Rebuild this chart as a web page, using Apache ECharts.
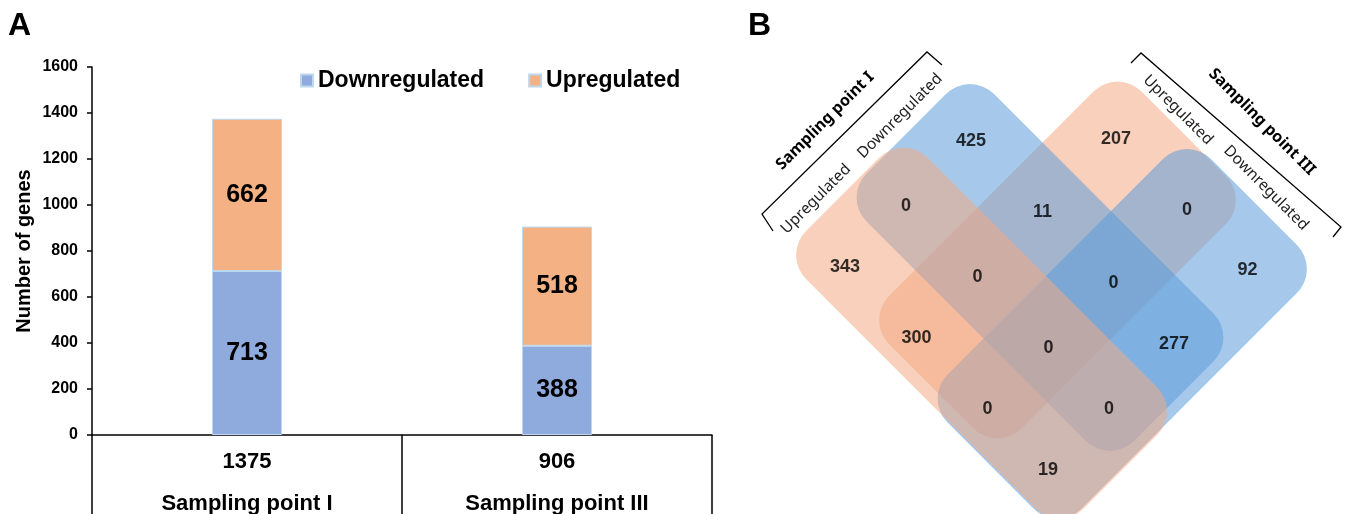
<!DOCTYPE html>
<html>
<head>
<meta charset="utf-8">
<script src="https://cdn.jsdelivr.net/npm/echarts@6/dist/echarts.min.js"></script>
<style>
  html, body { margin: 0; padding: 0; background: #fff; }
  #main { width: 1350px; height: 514px; }
</style>
</head>
<body>
<div id="main"></div>
<script>
// ---- panel A : DEGs per sampling point ----
var samples = ['Sampling point I', 'Sampling point III'];
var downData = [713, 388];
var upData = [662, 518];
var seriesNames = ['Downregulated', 'Upregulated'];
var yMax = 1600;
var yStep = 200;

// ---- panel B : 4-set venn ----
var vennSets = ['I Upregulated', 'I Downregulated', 'III Upregulated', 'III Downregulated'];
// region counts on the rotated grid [row along down-right][col along up-right]
var vennCounts = [
  [343, 0, 425, null],
  [300, 0, 11, 207],
  [0, 0, 0, 0],
  [19, 0, 277, 92]
];

// venn layout (rotated units, a = down-right, b = up-right)
var vennBoxes = [
  [-8, 547, -8, 235],   // I Up
  [-5, 530, 110, 365],  // I Down
  [140, 405, 10, 515],  // III Up
  [277, 545, -10, 517]  // III Down
];
var vennColors = ['#F3A983', '#5D9DDB', '#F3A983', '#5D9DDB'];
var drawOrder = [2, 1, 3, 0];
var rowPos = [67, 210, 352, 473];
var colPos = [43, 165, 295, 442];

function toXY(a, b) {
  return [(a + b) / 2, (a - b) / 2];
}

var totals = downData.map(function (d, i) { return d + upData[i]; });

var chart = echarts.init(document.getElementById('main'));

var vennRects = drawOrder.map(function (i) {
  var bx = vennBoxes[i];
  var c = toXY((bx[0] + bx[1]) / 2, (bx[2] + bx[3]) / 2);
  return { value: [c[0], c[1], i], name: vennSets[i] };
});

var vennLabels = [];
vennCounts.forEach(function (row, r) {
  row.forEach(function (v, k) {
    if (v === null) return;
    var p = toXY(rowPos[r], colPos[k]);
    vennLabels.push([p[0], p[1], v]);
  });
});

function renderBox(params, api) {
  var i = api.value(2);
  var bx = vennBoxes[i];
  var c00 = api.coord(toXY(bx[0], bx[2]));
  var c10 = api.coord(toXY(bx[1], bx[2]));
  var c01 = api.coord(toXY(bx[0], bx[3]));
  var w = Math.hypot(c10[0] - c00[0], c10[1] - c00[1]);
  var h = Math.hypot(c01[0] - c00[0], c01[1] - c00[1]);
  var ang = Math.atan2(c10[1] - c00[1], c10[0] - c00[0]);
  return {
    type: 'rect',
    x: (c10[0] + c01[0]) / 2,
    y: (c10[1] + c01[1]) / 2,
    rotation: -ang,
    shape: { x: -w / 2, y: -h / 2, width: w, height: h, r: 34 },
    style: { fill: vennColors[i], opacity: 0.55 }
  };
}

var labelFont = 'Noto Sans';

var option = {
  animation: false,
  backgroundColor: '#fff',
  legend: {
    data: seriesNames,
    left: 295,
    top: 64,
    itemWidth: 12,
    itemHeight: 12,
    itemGap: 44,
    icon: 'rect',
    textStyle: { fontFamily: 'Arial', fontWeight: 'bold', fontSize: 23, color: '#000' }
  },
  grid: [
    { left: 92, right: 638, top: 67, bottom: 79, outerBoundsMode: 'none' },
    { left: 770, top: 5, width: 580, height: 509, outerBoundsMode: 'none' }
  ],
  xAxis: [
    {
      type: 'category',
      gridIndex: 0,
      data: samples,
      axisLine: { lineStyle: { color: '#000', width: 1.5 } },
      axisTick: { show: true, length: 82, interval: 0, lineStyle: { color: '#000', width: 1.5 } },
      axisLabel: {
        interval: 0,
        margin: 10,
        formatter: function (v, idx) {
          return '{t|' + totals[idx] + '}\n{s|' + v + '}';
        },
        rich: {
          t: { fontFamily: 'Arial', fontWeight: 'bold', fontSize: 22, lineHeight: 34, color: '#000' },
          s: { fontFamily: 'Arial', fontWeight: 'bold', fontSize: 22, lineHeight: 50, color: '#000' }
        }
      }
    },
    { type: 'value', gridIndex: 1, min: -20, max: 560, show: false }
  ],
  yAxis: [
    {
      type: 'value',
      gridIndex: 0,
      min: 0,
      max: yMax,
      interval: yStep,
      name: 'Number of genes',
      nameLocation: 'middle',
      nameGap: 58,
      nameTextStyle: { fontFamily: 'Arial', fontWeight: 'bold', fontSize: 20, color: '#000' },
      axisLine: { show: true, lineStyle: { color: '#000', width: 1.5 } },
      axisTick: { show: true, length: 5, lineStyle: { color: '#000', width: 1.5 } },
      axisLabel: {
        fontFamily: 'Arial', fontWeight: 'bold', fontSize: 16, color: '#000', margin: 14,
        formatter: function (v) { return String(v); }
      },
      splitLine: { show: false }
    },
    { type: 'value', gridIndex: 1, min: -250, max: 259, inverse: true, show: false }
  ],
  series: [
    {
      name: seriesNames[0],
      type: 'bar',
      stack: 'total',
      barWidth: 70,
      data: downData,
      itemStyle: { color: '#8FAADC', borderColor: '#BDD7EE', borderWidth: 1 },
      label: { show: true, position: 'inside', fontFamily: 'Arial', fontWeight: 'bold', fontSize: 25, color: '#000' }
    },
    {
      name: seriesNames[1],
      type: 'bar',
      stack: 'total',
      barWidth: 70,
      data: upData,
      itemStyle: { color: '#F4B183', borderColor: '#BDD7EE', borderWidth: 1 },
      label: { show: true, position: 'inside', fontFamily: 'Arial', fontWeight: 'bold', fontSize: 25, color: '#000' }
    },
    {
      name: 'venn',
      type: 'custom',
      xAxisIndex: 1,
      yAxisIndex: 1,
      renderItem: renderBox,
      data: vennRects,
      silent: true
    },
    {
      name: 'vennCounts',
      type: 'scatter',
      xAxisIndex: 1,
      yAxisIndex: 1,
      symbolSize: 1,
      itemStyle: { color: 'rgba(0,0,0,0)' },
      data: vennLabels,
      z: 5,
      label: {
        show: true,
        position: 'inside',
        formatter: function (p) { return String(p.value[2]); },
        fontFamily: 'Arial',
        fontWeight: 'bold',
        fontSize: 18,
        color: '#000'
      }
    }
  ],
  graphic: [
    { type: 'text', left: 8, top: 10, style: { text: 'A', font: 'bold 32px Arial', fill: '#000' } },
    { type: 'text', left: 748, top: 10, style: { text: 'B', font: 'bold 32px Arial', fill: '#000' } },
    // bracket for sampling point I
    { type: 'polyline', shape: { points: [[773, 231], [762, 214], [927, 52], [942, 65]] },
      style: { stroke: '#000', lineWidth: 1.3, fill: null } },
    { type: 'text', x: 825, y: 121, rotation: Math.PI / 4,
      style: { text: 'Sampling point I', font: 'bold 16px "' + labelFont + '"', fill: '#000', align: 'center', verticalAlign: 'middle' } },
    { type: 'text', x: 816, y: 199, rotation: Math.PI / 4,
      style: { text: 'Upregulated', font: '15.5px "' + labelFont + '"', fill: '#222', align: 'center', verticalAlign: 'middle' } },
    { type: 'text', x: 900, y: 116, rotation: Math.PI / 4,
      style: { text: 'Downregulated', font: '15.5px "' + labelFont + '"', fill: '#222', align: 'center', verticalAlign: 'middle' } },
    // bracket for sampling point III
    { type: 'polyline', shape: { points: [[1131, 63], [1141, 53], [1341, 227], [1333, 237]] },
      style: { stroke: '#000', lineWidth: 1.3, fill: null } },
    { type: 'text', x: 1262, y: 122, rotation: -Math.PI / 4,
      style: { text: 'Sampling point III', font: 'bold 16px "' + labelFont + '"', fill: '#000', align: 'center', verticalAlign: 'middle' } },
    { type: 'text', x: 1178, y: 110, rotation: -Math.PI / 4,
      style: { text: 'Upregulated', font: '15.5px "' + labelFont + '"', fill: '#222', align: 'center', verticalAlign: 'middle' } },
    { type: 'text', x: 1266, y: 188, rotation: -Math.PI / 4,
      style: { text: 'Downregulated', font: '15.5px "' + labelFont + '"', fill: '#222', align: 'center', verticalAlign: 'middle' } }
  ]
};

chart.setOption(option);
</script>
</body>
</html>
